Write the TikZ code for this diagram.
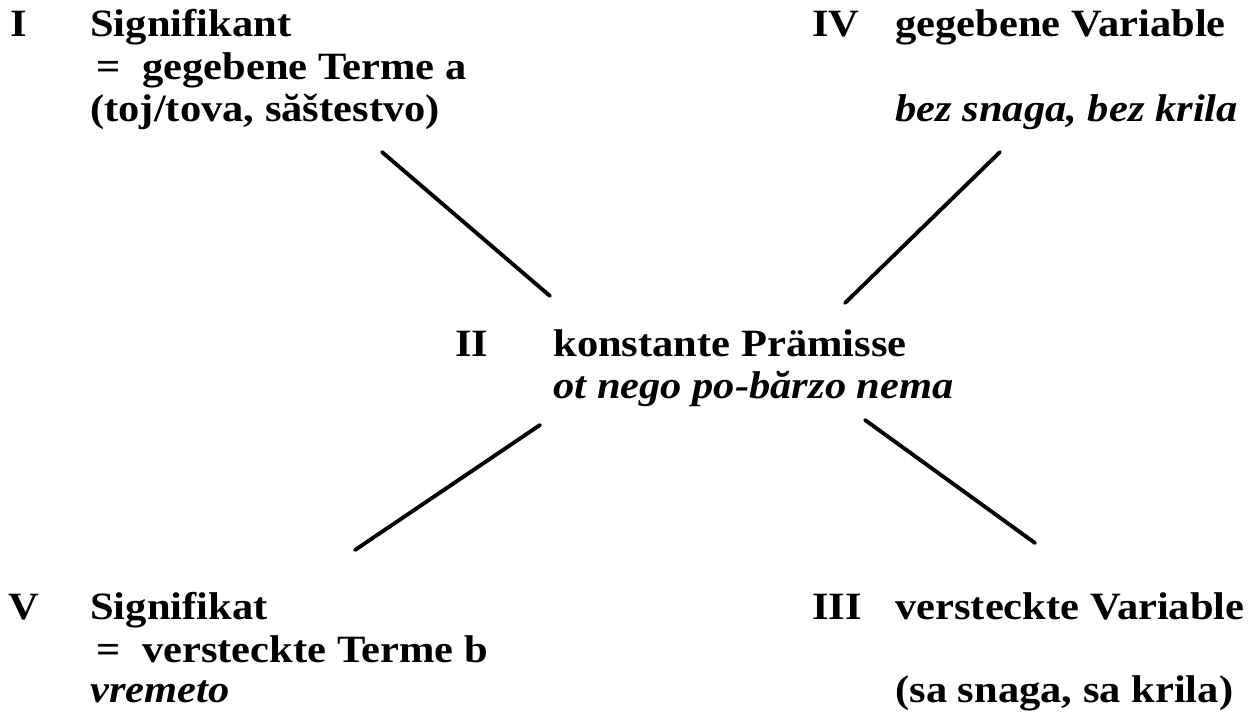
\documentclass[tikz,border=0pt]{standalone}
\usepackage{fontspec}
\setmainfont{Liberation Serif}[FakeStretch=1.1]
\usepackage{tikz}

\tikzset{
    txt/.style={anchor=base west, inner sep=0pt, font=\fontsize{22}{26}\selectfont\bfseries},
    itl/.style={txt, font=\fontsize{22}{26}\selectfont\bfseries\itshape},
    stroke/.style={line width=2.2pt, line cap=round}
}

\begin{document}
\begin{tikzpicture}
    \useasboundingbox (0,0) rectangle (25.08,-14.24);

    % I
    \node[txt] (num1) at (0.20,-0.74) {I};
    \node[txt] (sig1) at (1.80,-0.74) {Signifikant};
    \node[txt] (sig2) at (1.80,-1.60) {\,=\ \ gegebene Terme a};
    \node[txt] (sig3) at (1.80,-2.44) {(toj/tova, săštestvo)};

    % IV
    \node[txt] (num4) at (16.24,-0.74) {IV};
    \node[txt] (gv1) at (17.90,-0.74) {gegebene Variable};
    \node[itl] (gv2) at (17.90,-2.44) {bez snaga, bez krila};

    % II
    \node[txt] (num2) at (9.10,-7.14) {II};
    \node[txt] (kp1) at (11.06,-7.14) {konstante Prämisse};
    \node[itl] (kp2) at (11.06,-7.98) {ot nego po-bărzo nema};

    % V
    \node[txt] (num5) at (0.16,-12.40) {V};
    \node[txt] (sf1) at (1.80,-12.40) {Signifikat};
    \node[txt] (sf2) at (1.80,-13.24) {\,=\ \ versteckte Terme b};
    \node[itl] (sf3) at (1.80,-14.04) {vremeto};

    % III
    \node[txt] (num3) at (16.24,-12.40) {III};
    \node[txt] (vv1) at (17.90,-12.40) {versteckte Variable};
    \node[txt] (vv2) at (17.90,-14.04) {(sa snaga, sa krila)};

    \coordinate (a1) at (7.64,-3.04);
    \coordinate (a2) at (11.00,-5.92);
    \coordinate (b1) at (20.00,-3.04);
    \coordinate (b2) at (16.90,-6.06);
    \coordinate (c1) at (10.80,-8.50);
    \coordinate (c2) at (7.10,-11.00);
    \coordinate (d1) at (17.30,-8.40);
    \coordinate (d2) at (20.70,-10.86);

    \draw[stroke] (a1) -- (a2);
    \draw[stroke] (b1) -- (b2);
    \draw[stroke] (c1) -- (c2);
    \draw[stroke] (d1) -- (d2);
\end{tikzpicture}
\end{document}
